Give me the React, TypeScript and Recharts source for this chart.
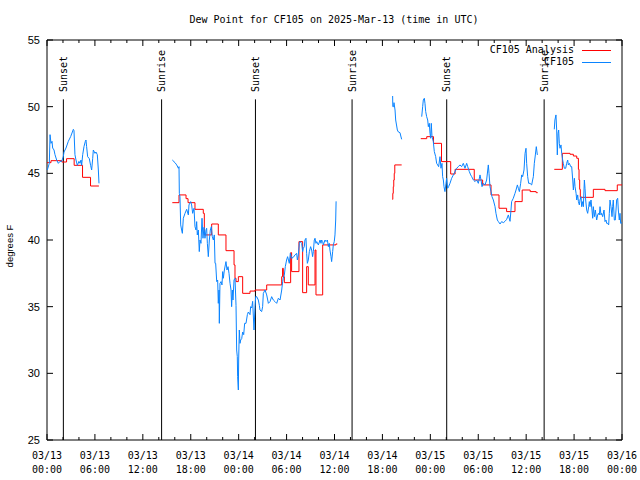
import React from 'react';
import { LineChart, Line, XAxis, YAxis, ReferenceLine, ReferenceDot, ReferenceArea } from 'recharts';

// ---------- data (hours since 03/13 00:00 UTC, degrees F) ----------
const obsSeg1: number[][] = [
  [0.04,45.25],[0.29,45.75],[0.38,47.9],[0.5,47.25],[0.63,47.4],[0.71,46.9],[0.88,46.75],[1.0,46.4],[1.21,46.0],[1.42,45.75],
  [1.63,45.9],[1.84,45.9],[2.04,46.25],[2.13,46.6],[2.38,46.9],[2.67,47.4],[2.96,47.75],[3.3,48.3],[3.38,48.2],[3.5,46.4],
  [3.63,46.0],[3.8,45.6],[4.0,45.9],[4.13,45.75],[4.26,46.0],[4.34,45.6],[4.47,46.4],[4.63,47.0],[4.8,47.4],[4.88,47.5],
  [4.96,47.0],[5.09,46.25],[5.3,46.1],[5.46,45.6],[5.59,45.25],[5.72,46.1],[5.8,46.75],[5.93,46.6],[6.01,46.5],[6.13,46.6],
  [6.3,46.4],[6.43,45.25],[6.51,44.25],
];
const obsSeg2: number[][] = [
  [15.69,46.0],[16.03,45.8],[16.24,45.63],[16.45,45.38],[16.53,45.5],[16.57,43.5],[16.65,43.25],[16.74,41.13],[16.86,40.75],[16.95,40.5],
  [17.07,41.63],[17.28,42.0],[17.49,42.3],[17.7,41.88],[17.78,42.63],[17.99,42.88],[18.11,42.63],[18.24,42.0],[18.41,42.38],[18.53,41.0],
  [18.66,40.75],[18.74,41.38],[18.82,40.38],[18.95,40.75],[19.07,39.13],[19.16,40.0],[19.28,39.75],[19.41,41.63],[19.53,40.13],[19.66,40.95],
  [19.78,40.13],[19.91,40.75],[19.99,40.88],[20.08,39.75],[20.2,38.75],[20.33,40.0],[20.45,40.75],[20.58,41.0],[20.7,40.25],[20.83,40.0],
  [20.95,40.38],[21.04,38.25],[21.12,38.25],[21.25,36.88],[21.37,37.0],[21.45,35.25],[21.54,36.25],[21.58,33.75],[21.66,36.75],[21.79,36.88],
  [21.91,36.63],[22.0,37.63],[22.08,37.13],[22.21,37.75],[22.33,38.13],[22.41,38.38],[22.54,37.75],[22.67,38.0],[22.79,37.5],[22.92,36.75],
  [23.04,36.25],[23.12,35.0],[23.21,36.25],[23.29,35.5],[23.42,37.0],[23.54,37.13],[23.67,35.1],[23.75,31.75],[23.83,31.25],[23.87,29.75],
  [23.96,28.75],[24.0,31.0],[24.08,33.25],[24.17,32.25],[24.25,32.5],[24.38,32.6],[24.5,33.1],[24.63,32.9],[24.75,33.75],[24.92,33.75],
  [25.09,34.4],[25.21,34.6],[25.42,34.4],[25.5,35.0],[25.63,34.9],[25.75,35.4],[25.92,33.25],[26.05,35.0],[26.13,35.75],[26.26,35.75],
  [26.46,35.5],[26.59,35.1],[26.67,34.75],[26.88,34.63],[27.0,35.0],[27.09,36.0],[27.3,36.25],[27.51,35.88],[27.72,35.25],[27.93,35.38],
  [28.13,35.75],[28.34,35.5],[28.55,35.38],[28.76,35.25],[28.97,35.63],[29.18,35.5],[29.39,36.25],[29.51,36.88],[29.59,37.13],[29.72,37.38],
  [29.84,38.0],[30.0,38.5],[30.13,38.75],[30.34,38.25],[30.47,39.0],[30.63,38.63],[30.84,38.7],[31.05,38.88],[31.26,39.0],[31.35,38.5],
  [31.47,38.88],[31.6,39.75],[31.68,39.88],[31.89,39.75],[32.01,39.13],[32.1,39.38],[32.22,39.5],[32.3,40.0],[32.43,40.13],[32.51,39.0],
  [32.6,38.25],[32.72,38.5],[32.85,39.13],[33.01,39.5],[33.14,39.25],[33.26,38.75],[33.35,39.13],[33.47,40.0],[33.56,40.13],[33.68,39.75],
  [33.77,39.88],[33.98,39.63],[34.19,40.0],[34.31,39.75],[34.39,40.0],[34.52,39.88],[34.6,39.63],[34.81,40.0],[34.94,39.88],[35.11,40.0],
  [35.23,39.5],[35.35,39.75],[35.43,39.25],[35.56,38.75],[35.64,38.38],[35.77,39.13],[35.85,39.63],[35.97,39.88],[36.06,40.38],[36.15,41.5],
  [36.2,42.9],
];
const obsSeg3a: number[][] = [
  [43.28,50.8],[43.3,50.0],[43.4,50.0],[43.45,50.3],[43.58,49.75],[43.66,49.0],[43.87,48.25],[44.0,48.1],[44.2,48.05],[44.3,47.8],[44.41,47.55],
];
const obsSeg3b: number[][] = [
  [46.92,49.25],[47.04,50.0],[47.12,50.5],[47.25,50.63],[47.33,50.25],[47.42,49.63],[47.54,49.25],[47.67,49.0],[47.75,48.5],[47.87,48.75],
  [47.96,48.0],[48.04,47.63],[48.12,48.75],[48.21,47.75],[48.37,47.38],[48.5,46.63],[48.67,46.25],[48.79,45.75],[48.92,45.63],[49.04,45.5],
  [49.21,46.25],[49.33,45.38],[49.46,45.75],[49.54,44.75],[49.63,44.5],[49.71,44.0],[49.83,43.63],[49.96,44.25],[50.04,44.63],[50.17,43.88],
  [50.29,44.0],[50.46,44.25],[50.67,44.63],[50.88,44.88],[51.09,45.13],[51.3,45.38],[51.5,45.5],[51.71,45.63],[51.92,45.5],[52.13,45.75],
  [52.34,45.38],[52.55,45.75],[52.68,45.5],[52.88,45.13],[53.05,44.88],[53.18,44.75],[53.39,44.5],[53.6,44.38],[53.8,44.5],[54.01,44.25],
  [54.22,44.88],[54.35,44.5],[54.47,44.0],[54.64,44.25],[54.85,44.13],[55.05,44.5],[55.26,45.63],[55.35,45.0],[55.47,44.0],[55.6,43.63],
  [55.72,43.25],[55.89,43.0],[56.1,42.5],[56.22,42.0],[56.39,41.5],[56.52,41.38],[56.73,41.2],[56.93,41.38],[57.14,41.3],[57.35,41.4],
  [57.56,41.55],[57.77,41.88],[57.98,41.4],[58.1,42.25],[58.18,42.88],[58.39,43.13],[58.6,43.5],[58.73,43.75],[58.9,44.13],[59.02,43.88],
  [59.15,43.63],[59.31,44.25],[59.44,44.88],[59.56,44.75],[59.73,45.25],[59.86,46.5],[59.98,46.88],[60.06,45.75],[60.19,44.75],[60.31,44.25],
  [60.48,44.25],[60.69,44.13],[60.81,44.5],[60.9,44.75],[61.02,45.75],[61.15,46.38],[61.27,47.0],[61.4,46.38],
];
const obsSeg4: number[][] = [
  [63.52,48.3],[63.6,49.0],[63.73,49.38],[63.82,48.25],[63.9,46.38],[63.99,48.0],[64.07,48.25],[64.15,47.25],[64.24,46.88],[64.36,47.13],
  [64.45,46.5],[64.57,46.0],[64.65,45.75],[64.78,45.38],[64.95,45.38],[65.07,45.75],[65.2,46.0],[65.28,45.63],[65.41,45.75],[65.58,45.5],
  [65.7,45.5],[65.83,44.5],[65.91,43.75],[66.04,44.63],[66.12,44.0],[66.25,43.5],[66.33,43.0],[66.45,43.38],[66.54,42.88],[66.66,42.63],
  [66.74,43.0],[66.87,43.25],[66.95,42.5],[67.08,42.88],[67.16,42.5],[67.29,44.5],[67.37,43.88],[67.45,43.0],[67.58,42.25],[67.7,42.0],
  [67.83,42.5],[67.91,42.88],[67.99,42.5],[68.12,43.0],[68.24,42.25],[68.33,41.63],[68.41,42.5],[68.54,41.75],[68.66,42.25],[68.74,41.88],
  [68.83,41.5],[68.95,41.88],[69.04,42.0],[69.16,41.88],[69.25,42.5],[69.37,41.88],[69.45,42.0],[69.58,41.75],[69.75,42.25],[69.87,41.38],
  [70.0,41.5],[70.08,41.25],[70.21,41.25],[70.33,41.13],[70.41,42.0],[70.5,43.0],[70.62,42.5],[70.75,41.75],[70.83,42.5],[70.91,43.0],
  [71.04,41.5],[71.16,41.5],[71.25,42.25],[71.33,43.0],[71.46,43.13],[71.54,42.25],[71.66,41.5],[71.75,42.0],[71.83,41.25],[72.0,41.3],
];

const anaSeg1: number[][] = [
  [0,45.8],[0.5,45.95],[1.85,45.85],[2.45,46.1],[3.4,45.6],[4.45,44.7],[5.45,44.05],[6.5,44.05],
];
const anaSeg2: number[][] = [
  [15.69,42.8],[16.53,43.38],[17.41,43.1],[17.66,42.8],[18.53,42.3],[19.57,42.0],[19.7,40.38],[20.62,41.2],[21.45,40.38],[22.41,39.2],
  [23.42,38.13],[23.54,37.13],[23.67,36.88],[23.96,37.25],[24.5,36.0],[25.42,36.17],[26.05,36.25],[27.51,36.63],[29.39,37.25],[29.5,37.88],
  [29.59,37.25],[29.72,36.8],[30.51,39.05],[30.63,37.63],[31.55,39.88],[32.01,36.05],[32.51,38.0],[32.72,36.63],[33.56,39.25],[33.68,35.88],
  [34.52,39.63],[36.18,39.7],[36.35,39.7],
];
const anaSeg3a: number[][] = [
  [43.24,43.05],[43.3,43.5],[43.36,44.0],[43.42,44.5],[43.48,45.0],[43.55,45.63],[44.41,45.63],
];
const anaSeg3b: number[][] = [
  [46.8,47.6],[47.55,47.75],[48.4,47.25],[49.4,45.88],[50.55,44.95],[51.1,45.3],[53.5,44.5],[54.55,44.13],[55.6,43.38],[56.6,42.38],
  [57.55,42.13],[58.6,42.88],[59.5,43.75],[60.5,43.63],[61.25,43.55],[61.45,43.55],
];
const anaSeg4: number[][] = [
  [63.52,45.3],[64.53,46.5],[65.49,46.43],[65.91,46.3],[66.33,46.13],[66.54,45.3],[66.62,44.5],[66.7,43.8],[66.78,43.2],[68.41,43.8],
  [69.87,43.7],[71.41,44.13],[72,44.13],
];

const sunTimes = [2.05, 14.35, 26.1, 38.2, 50.05, 62.25];
const sunLabels = ['Sunset', 'Sunrise', 'Sunset', 'Sunrise', 'Sunset', 'Sunrise'];

const xTicks = [0,2,4,6,8,10,12,14,16,18,20,22,24,26,28,30,32,34,36,38,40,42,44,46,48,50,52,54,56,58,60,62,64,66,68,70,72];
const xLabelHours = [0,6,12,18,24,30,36,42,48,54,60,66,72];
const xDateLabels = ['03/13','03/13','03/13','03/13','03/14','03/14','03/14','03/14','03/15','03/15','03/15','03/15','03/16'];
const xTimeLabels = ['00:00','06:00','12:00','18:00','00:00','06:00','12:00','18:00','00:00','06:00','12:00','18:00','00:00'];
const yTicks = [25,30,35,40,45,50,55];

// ---------- layout / style ----------
const W = 640, H = 480;
const PL = 47, PR = 622, PT = 40, PB = 440;
const MONO = '"DejaVu Sans Mono", "Liberation Mono", monospace';
const SANS = '"Liberation Sans", Arial, sans-serif';
const RED = '#ff0000';
const BLUE = '#0a84ff';
const LABEL_VAL = 51.1;
const LINE_TOP_VAL = 50.55;

const toPts = (a: number[][]) => a.map(([t, v]) => ({ t, v }));
const obsSegs = [obsSeg1, obsSeg2, obsSeg3a, obsSeg3b, obsSeg4].map(toPts);
const anaSegs = [anaSeg1, anaSeg2, anaSeg3a, anaSeg3b, anaSeg4].map(toPts);

const XTick = (props: any) => {
  const { x, payload } = props;
  const v = payload.value as number;
  const idx = xLabelHours.indexOf(v);
  const major = idx >= 0;
  const len = major ? 6 : 3;
  return (
    <g>
      <line x1={x} x2={x} y1={PB} y2={PB - len} stroke="#000" strokeWidth={1} />
      <line x1={x} x2={x} y1={PT} y2={PT + len} stroke="#000" strokeWidth={1} />
      {major && (
        <text fontFamily={MONO} fontSize={10} fill="#000" textAnchor="middle">
          <tspan x={x} y={459}>{xDateLabels[idx]}</tspan>
          <tspan x={x} y={473}>{xTimeLabels[idx]}</tspan>
        </text>
      )}
    </g>
  );
};

const YTick = (props: any) => {
  const { y, payload } = props;
  return (
    <g>
      <line x1={PL} x2={PL + 6} y1={y} y2={y} stroke="#000" strokeWidth={1} />
      <line x1={PR - 6} x2={PR} y1={y} y2={y} stroke="#000" strokeWidth={1} />
      <text x={40} y={y + 4} textAnchor="end" fontFamily={SANS} fontSize={11} fill="#000">{payload.value}</text>
    </g>
  );
};

const YLabel = () => (
  <text x={13} y={246} transform="rotate(-90 13 246)" textAnchor="middle" fontFamily={SANS} fontSize={9.5} fill="#000">
    degrees F
  </text>
);

const sunShape = (label: string) => (p: any) => (
  <text
    x={p.cx}
    y={p.cy}
    transform={`rotate(-90 ${p.cx} ${p.cy})`}
    textAnchor="start"
    dominantBaseline="central"
    fontFamily={MONO}
    fontSize={10}
    fill="#000"
  >
    {label}
  </text>
);

export default function App() {
  return (
    <div style={{ position: 'absolute', left: 0, top: 0, width: W, height: H, background: '#fff' }}>
      <LineChart width={W} height={H} margin={{ top: PT, right: W - PR, bottom: 0, left: 0 }}>
        <XAxis
          dataKey="t"
          type="number"
          domain={[0, 72]}
          ticks={xTicks}
          interval={0}
          tick={XTick}
          tickLine={false}
          axisLine={false}
          height={H - PB}
          allowDataOverflow
        />
        <YAxis
          type="number"
          domain={[25, 55]}
          ticks={yTicks}
          interval={0}
          tick={YTick}
          tickLine={false}
          axisLine={false}
          width={PL}
          allowDataOverflow
          label={<YLabel />}
        />
        <ReferenceArea x1={0} x2={72} y1={25} y2={55} fill="none" fillOpacity={0} stroke="#000" strokeWidth={1} />
        {sunTimes.map((t, i) => (
          <ReferenceLine
            key={'sl' + i}
            segment={[{ x: t, y: 25 }, { x: t, y: LINE_TOP_VAL }]}
            stroke="#000"
            strokeWidth={1}
          />
        ))}
        {sunTimes.map((t, i) => (
          <ReferenceDot key={'sd' + i} x={t} y={LABEL_VAL} r={0} shape={sunShape(sunLabels[i])} />
        ))}
        {anaSegs.map((d, i) => (
          <Line
            key={'a' + i}
            data={d}
            dataKey="v"
            type="stepAfter"
            stroke={RED}
            strokeWidth={1}
            dot={false}
            isAnimationActive={false}
          />
        ))}
        {obsSegs.map((d, i) => (
          <Line
            key={'o' + i}
            data={d}
            dataKey="v"
            type="linear"
            stroke={BLUE}
            strokeWidth={1}
            dot={false}
            isAnimationActive={false}
          />
        ))}
      </LineChart>
      <div
        style={{
          position: 'absolute', left: 0, top: 13, width: 668, textAlign: 'center',
          fontFamily: MONO, fontSize: 10, lineHeight: '14px', color: '#000', whiteSpace: 'pre',
        }}
      >
        Dew Point for CF105 on 2025-Mar-13 (time in UTC)
      </div>
      <div style={{ position: 'absolute', right: W - 574, top: 43, fontFamily: MONO, fontSize: 10, lineHeight: '14px', color: '#000', whiteSpace: 'pre' }}>
        CF105 Analysis
      </div>
      <div style={{ position: 'absolute', left: 582, top: 50, width: 29, borderTop: `1px solid ${RED}` }} />
      <div style={{ position: 'absolute', right: W - 574, top: 55, fontFamily: MONO, fontSize: 10, lineHeight: '14px', color: '#000', whiteSpace: 'pre' }}>
        CF105
      </div>
      <div style={{ position: 'absolute', left: 582, top: 62, width: 29, borderTop: `1px solid ${BLUE}` }} />
    </div>
  );
}
